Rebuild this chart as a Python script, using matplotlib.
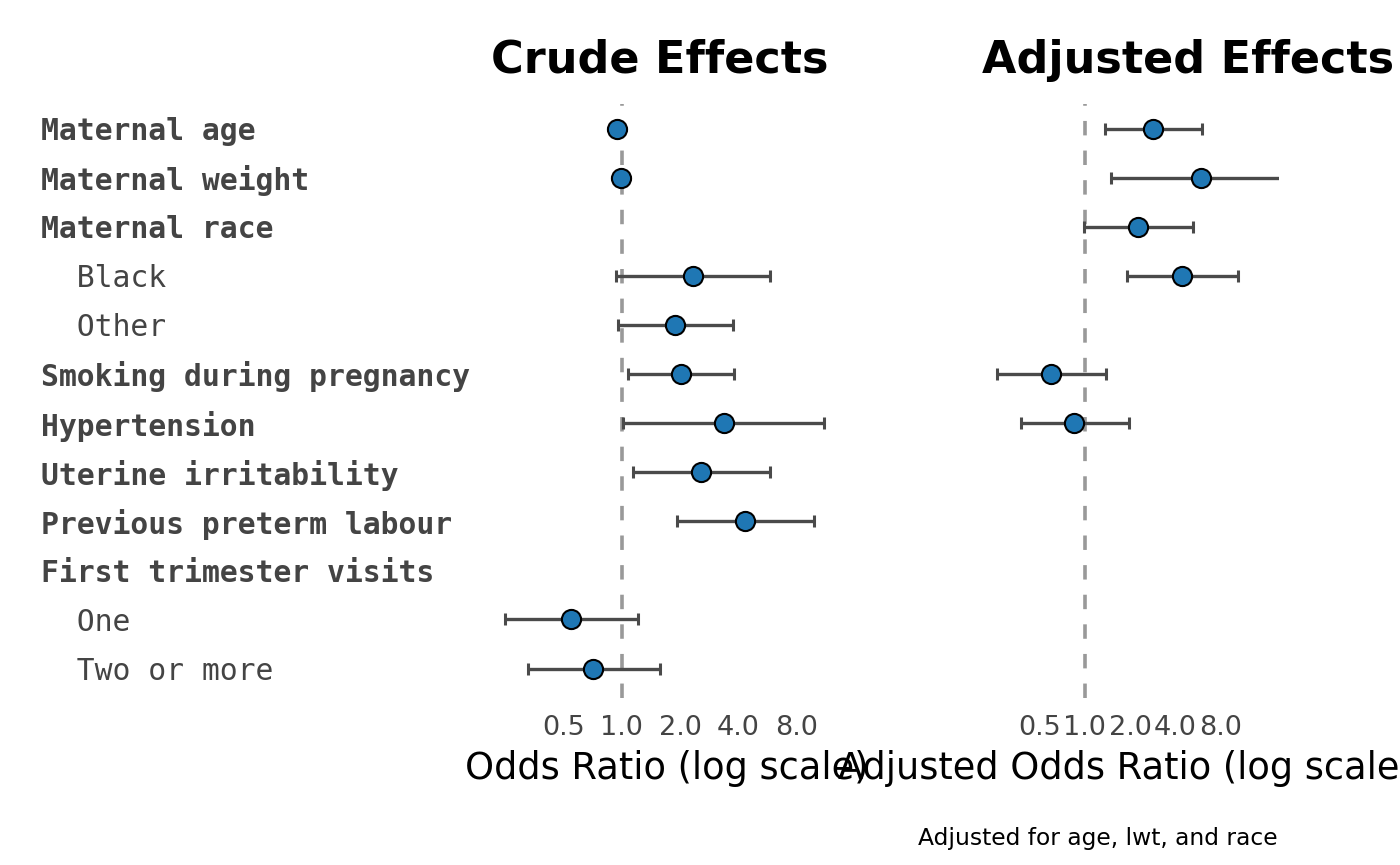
import numpy as np
import matplotlib
matplotlib.use("Agg")
import matplotlib.pyplot as plt

# ---------------- data ----------------
row_labels = ["Maternal age", "Maternal weight", "Maternal race", "  Black", "  Other",
              "Smoking during pregnancy", "Hypertension", "Uterine irritability",
              "Previous preterm labour", "First trimester visits", "  One", "  Two or more"]
row_bold = [True, True, True, False, False, True, True, True, True, True, False, False]

crude_rows = [0, 1, 3, 4, 5, 6, 7, 8, 10, 11]
crude_or = [0.95, 0.99, 2.33, 1.89, 2.02, 3.37, 2.58, 4.32, 0.55, 0.71]
crude_lo = [0.89, 0.97, 0.94, 0.96, 1.08, 1.02, 1.14, 1.92, 0.25, 0.33]
crude_hi = [1.01, 1.00, 5.80, 3.76, 3.80, 11.09, 5.86, 9.80, 1.21, 1.58]

adj_rows = [0, 1, 2, 3, 5, 6]
adj_or = [2.85, 5.96, 2.26, 4.45, 0.59, 0.85]
adj_lo = [1.36, 1.49, 0.99, 1.91, 0.26, 0.375]
adj_hi = [6.05, 24.0, 5.27, 10.5, 1.38, 1.97]

ticks = [0.5, 1.0, 2.0, 4.0, 8.0]
tick_labels = ["0.5", "1.0", "2.0", "4.0", "8.0"]

# ---------------- layout (pixels) ----------------
W, H = 1400, 865
fig = plt.figure(figsize=(W / 100, H / 100), dpi=100)

top_px, bot_px = 104, 698
crude_L, crude_R = 470, 850
adj_L, adj_R = 975, 1279

def fig_rect(L, R):
    return [L / W, (H - bot_px) / H, (R - L) / W, (bot_px - top_px) / H]

ax1 = fig.add_axes(fig_rect(crude_L, crude_R))
ax2 = fig.add_axes(fig_rect(adj_L, adj_R))

grey_txt = "#444444"
err_col = "#4a4a4a"
pt_col = "#1f77b4"

def draw(ax, rows, ors, lo, hi, xlim):
    ors = np.array(ors); lo = np.array(lo); hi = np.array(hi)
    ax.axvline(1.0, color="#999999", lw=2.6, ls=(0, (4.0, 4.2)), zorder=1)
    ax.errorbar(ors, rows, xerr=[ors - lo, hi - ors], fmt="none", ecolor=err_col,
                elinewidth=2.4, capsize=4.0, capthick=2.2, zorder=2)
    ax.plot(ors, rows, "o", ms=13.8, mfc=pt_col, mec="black", mew=1.5, zorder=3)
    ax.set_xscale("log", base=2)
    ax.set_xlim(*xlim)
    ax.set_ylim(11.6, -0.5)
    ax.set_xticks(ticks)
    ax.set_xticklabels(tick_labels)
    ax.xaxis.set_minor_locator(matplotlib.ticker.NullLocator())
    ax.tick_params(axis="x", length=0, pad=12.5, labelsize=19.5, labelcolor=grey_txt)
    for s in ax.spines.values():
        s.set_visible(False)
    ax.set_facecolor("none")

# crude: 1.0 at 621.65 px, 58.35 px per doubling
c_lo = 2 ** ((crude_L - 621.65) / 58.35)
c_hi = 2 ** ((crude_R - 621.65) / 58.35)
draw(ax1, crude_rows, crude_or, crude_lo, crude_hi, (c_lo, c_hi))
# adjusted: 1.0 at 1084.9 px, 45.1 px per doubling
a_lo = 2 ** ((adj_L - 1084.9) / 45.1)
a_hi = 2 ** ((adj_R - 1084.9) / 45.1)
draw(ax2, adj_rows, adj_or, adj_lo, adj_hi, (a_lo, a_hi))

# y labels on crude axes
ax1.set_yticks(range(len(row_labels)))
ax1.set_yticklabels(row_labels, ha="left", family="DejaVu Sans Mono", fontsize=21.4,
                    color=grey_txt)
for lab, b in zip(ax1.get_yticklabels(), row_bold):
    lab.set_fontweight("bold" if b else "normal")
ax1.tick_params(axis="y", length=0, pad=(crude_L - 41) * 0.72)
ax2.set_yticks([])

def ax_frac(L, R, px, py):
    return (px - L) / (R - L), (bot_px - py) / (bot_px - top_px)

# titles
x, y = ax_frac(crude_L, crude_R, 491, 81)
ax1.set_title("Crude Effects", fontsize=32, fontweight="bold", x=x, y=y,
              ha="left", va="baseline")
x, y = ax_frac(adj_L, adj_R, 982, 81)
ax2.set_title("Adjusted Effects", fontsize=32, fontweight="bold", x=x, y=y,
              ha="left", va="baseline")

# x labels
ax1.set_xlabel("Odds Ratio (log scale)", fontsize=26.5, ha="left", va="baseline")
ax1.xaxis.set_label_coords(*ax_frac(crude_L, crude_R, 465, 779))
ax2.set_xlabel("Adjusted Odds Ratio (log scale)", fontsize=26.5, ha="left", va="baseline")
ax2.xaxis.set_label_coords(*ax_frac(adj_L, adj_R, 838, 779))

fig.text(1098 / W, (H - 845) / H, "Adjusted for age, lwt, and race", fontsize=16.8,
         ha="center", va="baseline")

fig.savefig("out.png", dpi=100, facecolor="white")
